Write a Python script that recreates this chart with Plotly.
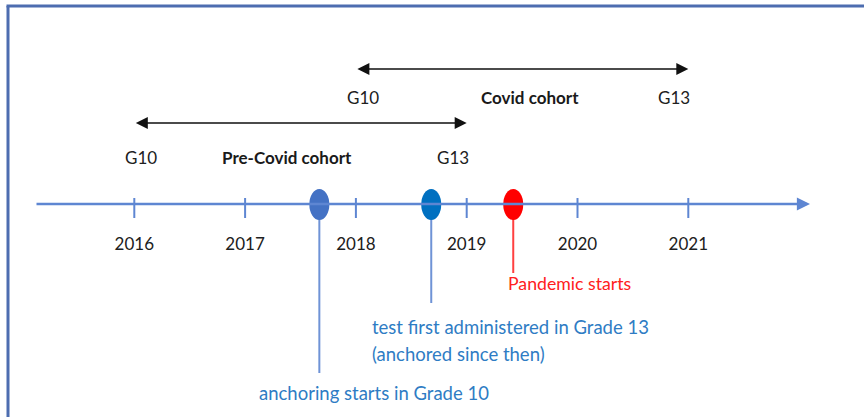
import plotly.graph_objects as go

# ---------------- data ----------------
years = [2016, 2017, 2018, 2019, 2020, 2021]
year_labels = ["2016", "2017", "2018", "2019", "2020", "2021"]

event_years = [2017.67, 2018.68, 2019.42]
event_lines = [
    ["anchoring starts in Grade 10"],
    ["test first administered in Grade 13", "(anchored since then)"],
    ["Pandemic starts"],
]
event_marker_colors = ["#4472C4", "#0070C0", "#FF0000"]
event_line_colors = ["#6F93D6", "#6F93D6", "#FF4040"]
event_text_colors = ["#2E7CC4", "#2E7CC4", "#FF2020"]
event_text_sizes = [18.5, 18.5, 17.7]

cohort_names = ["Pre-Covid cohort", "Covid cohort"]
cohort_start = [2016, 2018]
cohort_end = [2019, 2021]
cohort_start_label = ["G10", "G10"]
cohort_end_label = ["G13", "G13"]

# ---------------- layout constants (pixels) ----------------
W, H = 864, 417
PX0, PX_PER_YEAR = 134.3, 110.8     # horizontal scale of the time axis


def yr(px):
    return 2016 + (px - PX0) / PX_PER_YEAR


FONT = "Lato"
TL_Y = 204
TL_COLOR = "#5E86D2"
TICK_TOP, TICK_BOT = 198, 218
YEAR_LABEL_Y = 246
ELL_HALF_W, ELL_TOP, ELL_BOT = 10, 189, 220
EVENT_LINE_END = [373, 303, 273]
EVENT_TEXT_Y = [[393], [327, 354], [283]]
EVENT_TEXT_XSHIFT = [-62, -61, -7]
COHORT_ARROW_Y = [123, 69]
COHORT_LABEL_Y = [157, 97]
COHORT_NAME_X = [yr(287), yr(530)]

fig = go.Figure()

# ticks
tx, ty = [], []
for y in years:
    tx += [y, y, None]
    ty += [TICK_TOP, TICK_BOT, None]
fig.add_trace(go.Scatter(x=tx, y=ty, mode="lines",
                         line=dict(color=TL_COLOR, width=2), hoverinfo="skip"))

# year labels
fig.add_trace(go.Scatter(x=years, y=[YEAR_LABEL_Y] * len(years), mode="text",
                         text=year_labels,
                         textfont=dict(family=FONT, size=17, color="#202020"),
                         hoverinfo="skip"))

# event vertical lines
for ey, yend, c in zip(event_years, EVENT_LINE_END, event_line_colors):
    fig.add_trace(go.Scatter(x=[ey, ey], y=[TL_Y, yend], mode="lines",
                             line=dict(color=c, width=2), hoverinfo="skip"))

shapes = []
annotations = []

# timeline arrow
annotations.append(dict(x=yr(810), y=TL_Y, ax=yr(35), ay=TL_Y,
                        xref="x", yref="y", axref="x", ayref="y",
                        text="", showarrow=True, arrowhead=2, arrowsize=1.05,
                        arrowwidth=2.5, arrowcolor=TL_COLOR))

# event ellipses
for ey, c in zip(event_years, event_marker_colors):
    shapes.append(dict(type="circle", xref="x", yref="y",
                       x0=ey - ELL_HALF_W / PX_PER_YEAR, x1=ey + ELL_HALF_W / PX_PER_YEAR,
                       y0=ELL_TOP, y1=ELL_BOT, fillcolor=c, line=dict(width=0),
                       layer="above"))

# event labels
for ey, lines, ys, xs, c, fs in zip(event_years, event_lines, EVENT_TEXT_Y,
                                    EVENT_TEXT_XSHIFT, event_text_colors,
                                    event_text_sizes):
    for t, y in zip(lines, ys):
        annotations.append(dict(x=ey, y=y, xref="x", yref="y", text=t,
                                showarrow=False, xanchor="left", yanchor="middle",
                                xshift=xs,
                                font=dict(family=FONT, size=fs, color=c)))

# cohort arrows and labels
for name, s, e, sl, el, ay, ly, nx in zip(cohort_names, cohort_start, cohort_end,
                                          cohort_start_label, cohort_end_label,
                                          COHORT_ARROW_Y, COHORT_LABEL_Y, COHORT_NAME_X):
    annotations.append(dict(x=e, y=ay, ax=s, ay=ay, xref="x", yref="y",
                            axref="x", ayref="y", text="", showarrow=True,
                            arrowhead=2, startarrowhead=2, arrowside="end+start",
                            arrowsize=1.6, startarrowsize=1.6, arrowwidth=1.5,
                            arrowcolor="#111111"))
    annotations.append(dict(x=s, y=ly, xref="x", yref="y", text=sl, showarrow=False,
                            xshift=7, font=dict(family=FONT, size=17, color="#202020")))
    annotations.append(dict(x=e, y=ly, xref="x", yref="y", text=el, showarrow=False,
                            xshift=-14, font=dict(family=FONT, size=17, color="#202020")))
    annotations.append(dict(x=nx, y=ly, xref="x", yref="y", text="<b>" + name + "</b>",
                            showarrow=False,
                            font=dict(family=FONT, size=17, color="#1A1A1A")))

# frame (cut at right and bottom)
shapes.append(dict(type="line", xref="paper", yref="paper",
                   x0=6.5 / W, x1=1, y0=1 - 6 / H, y1=1 - 6 / H,
                   line=dict(color="#4D6DB0", width=3)))
shapes.append(dict(type="line", xref="paper", yref="paper",
                   x0=8 / W, x1=8 / W, y0=0, y1=1 - 6 / H,
                   line=dict(color="#4D6DB0", width=3)))

fig.update_layout(
    width=W, height=H, autosize=False,
    margin=dict(l=0, r=0, t=0, b=0),
    paper_bgcolor="white", plot_bgcolor="white",
    showlegend=False,
    xaxis=dict(range=[yr(0), yr(W)], visible=False, fixedrange=True),
    yaxis=dict(range=[H, 0], visible=False, fixedrange=True),
    shapes=shapes, annotations=annotations,
)

fig.write_html("out.html", config={"displayModeBar": False},
               post_script="document.body.style.margin='0';document.body.style.overflow='hidden';")
